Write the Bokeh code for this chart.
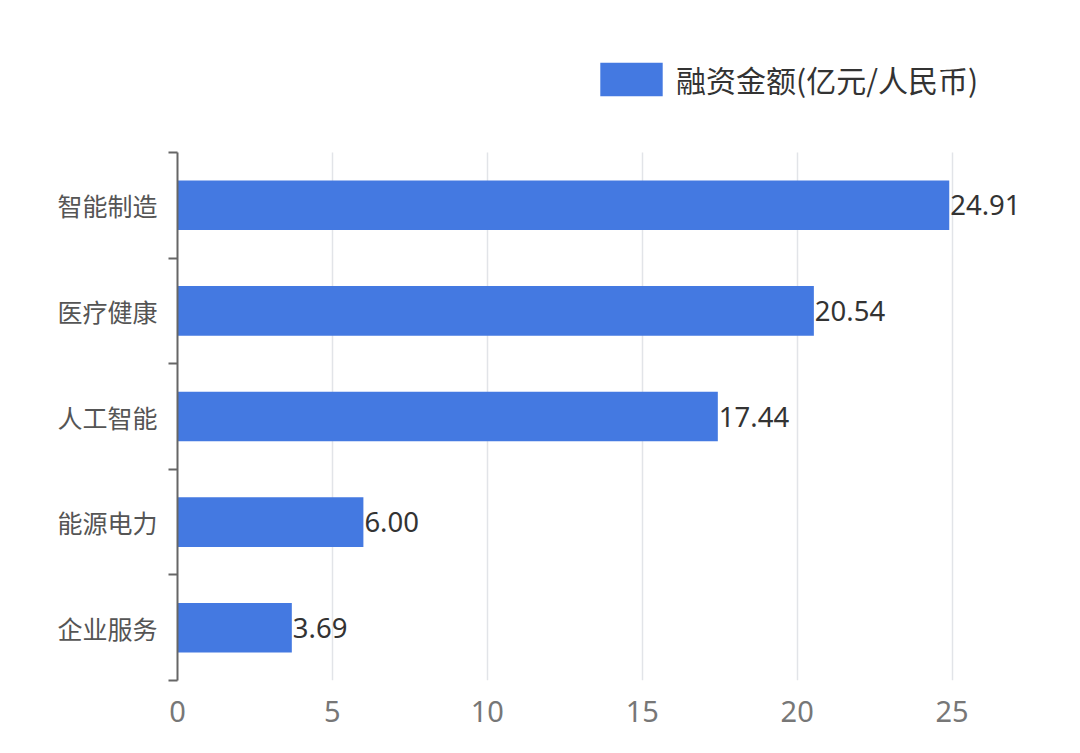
from bokeh.core.properties import value
from bokeh.embed import file_html
from bokeh.models import ColumnDataSource, FixedTicker, Legend, LegendItem, Range1d
from bokeh.plotting import figure
from bokeh.resources import INLINE

# data, top to bottom
categories = ["智能制造", "医疗健康", "人工智能", "能源电力", "企业服务"]
amounts = [24.91, 20.54, 17.44, 6.00, 3.69]
x_ticks = [0, 5, 10, 15, 20, 25]
series_name = "融资金额(亿元/人民币)"

CJK = "Noto Sans CJK SC"
NUM = "Noto Sans"
BAR = "#4479E1"

W, H = 1064, 737
LEFT, AXIS_TOP, BOTTOM = 177, 152, 680   # pixel layout of the bar area
FRAME_TOP = 40                            # frame reaches up to hold the legend
n = len(categories)
band_px = (BOTTOM - AXIS_TOP) / n
y_end = (BOTTOM - FRAME_TOP) / band_px

ypos = [n - i - 0.5 for i in range(n)]
src = ColumnDataSource(dict(
    y=ypos,
    right=amounts,
    label=[f"{v:.2f}" for v in amounts],
))

p = figure(
    width=W,
    height=H,
    x_range=Range1d(0, 27.5),
    y_range=Range1d(0, y_end),
    output_backend="svg",
    toolbar_location=None,
    min_border_left=LEFT,
    min_border_right=35,
    min_border_top=FRAME_TOP,
    min_border_bottom=H - BOTTOM,
    outline_line_color=None,
    background_fill_color="white",
    border_fill_color="white",
)

bars = p.hbar(y="y", right="right", left=0, height=0.47, source=src,
              fill_color=BAR, line_color=None)

p.text(x="right", y="y", text="label", source=src, x_offset=1,
       text_align="left", text_baseline="middle",
       text_font=value(NUM), text_font_size="27.5px", text_color="#333333")

# x axis
p.xaxis.ticker = FixedTicker(ticks=x_ticks)
p.xaxis.axis_line_color = None
p.xaxis.major_tick_line_color = None
p.xaxis.minor_tick_line_color = None
p.xaxis.major_label_text_font = NUM
p.xaxis.major_label_text_font_size = "29px"
p.xaxis.major_label_text_color = "#777777"
p.xaxis.major_label_standoff = 14

p.xgrid.ticker = FixedTicker(ticks=x_ticks[1:])
p.xgrid.cross_bounds = (0, n)
p.xgrid.grid_line_color = "#e2e4e8"
p.xgrid.grid_line_width = 1.5
p.ygrid.grid_line_color = None

# y axis: labels at band centres, small ticks at band boundaries
p.yaxis.bounds = (0, n)
p.yaxis.ticker = FixedTicker(ticks=ypos, minor_ticks=list(range(n + 1)))
p.yaxis.major_label_overrides = {y: c for y, c in zip(ypos, categories)}
p.yaxis.axis_line_color = "#666666"
p.yaxis.axis_line_width = 2
p.yaxis.major_tick_line_color = None
p.yaxis.major_tick_out = 0
p.yaxis.minor_tick_line_color = "#666666"
p.yaxis.minor_tick_line_width = 2
p.yaxis.minor_tick_out = 9
p.yaxis.minor_tick_in = 0
p.yaxis.major_label_text_font = CJK
p.yaxis.major_label_text_font_size = "25px"
p.yaxis.major_label_text_color = "#555555"
p.yaxis.major_label_standoff = 11

# legend swatch is drawn inset by 10% of its box, so the box is a bit larger
legend = Legend(
    items=[LegendItem(label=series_name, renderers=[bars], index=0)],
    location=(592 - LEFT, BOTTOM - 101),
    orientation="horizontal",
    padding=0,
    margin=0,
    border_line_color=None,
    background_fill_alpha=0,
    glyph_width=78,
    glyph_height=42,
    label_standoff=6,
    label_text_font=CJK,
    label_text_font_size="30px",
    label_text_color="#333333",
    label_text_baseline="middle",
)
p.add_layout(legend)

open("out.html", "w").write(file_html(p, INLINE))
